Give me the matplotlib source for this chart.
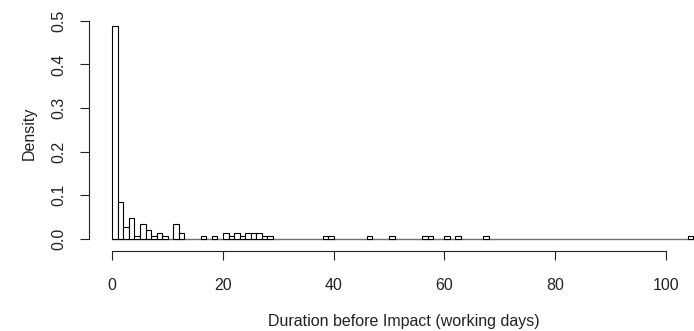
import numpy as np
import matplotlib
matplotlib.use("Agg")
import matplotlib.pyplot as plt

plt.rcParams['font.family'] = ['Liberation Sans', 'DejaVu Sans']

# histogram bins of width 1 day, 0..105; only non-empty bins listed (density)
bin_left = [0, 1, 2, 3, 4, 5, 6, 7, 8, 9, 11, 12,
            16, 18, 20, 21, 22, 23, 24, 25, 26, 27, 28,
            38, 39, 46, 50, 56, 57, 60, 62, 67, 104]
density = [0.488, 0.0855, 0.027, 0.047, 0.0069, 0.034, 0.020, 0.0069, 0.0138, 0.0069, 0.034, 0.0138,
           0.0069, 0.0069, 0.0138, 0.0069, 0.0138, 0.0069, 0.0138, 0.0138, 0.0138, 0.0069, 0.0069,
           0.0069, 0.0069, 0.0069, 0.0069, 0.0069, 0.0069, 0.0069, 0.0069, 0.0069, 0.0069]
n_bins = 105

edges = np.arange(n_bins + 1)
heights = np.zeros(n_bins)
for b, d in zip(bin_left, density):
    heights[b] = d

W, H = 694, 331
fig = plt.figure(figsize=(W / 100, H / 100), dpi=100)
ax = fig.add_axes([89 / W, (H - 251) / H, (W - 89) / W, (251 - 15) / H])

# bottoms of the empty bins show as one grey line
ax.hlines(0, edges[0], edges[-1], color='#707070', linewidth=1.0, zorder=1)
nz = heights > 0
ax.bar(edges[:-1][nz], heights[nz], width=1, align='edge', color='white',
       edgecolor='black', linewidth=0.8, zorder=2)

ax.set_xlim(-4.21, 105.1)
ax.set_ylim(-0.0275, 0.513)

for s in ['top', 'right']:
    ax.spines[s].set_visible(False)
ax.spines['left'].set_bounds(0, 0.5)
ax.spines['bottom'].set_bounds(0, 100)
for s in ['left', 'bottom']:
    ax.spines[s].set_color('#222222')
    ax.spines[s].set_linewidth(0.8)

ax.set_xticks([0, 20, 40, 60, 80, 100])
ax.set_yticks([0.0, 0.1, 0.2, 0.3, 0.4, 0.5])
ax.set_yticklabels(['0.0', '0.1', '0.2', '0.3', '0.4', '0.5'], rotation=90, va='center')
ax.tick_params(axis='both', direction='out', length=6.5, width=0.8, color='#222222',
               labelsize=11.5, labelcolor='#222222')
ax.tick_params(axis='x', pad=13)
ax.tick_params(axis='y', pad=10)

ax.set_xlabel('Duration before Impact (working days)', fontsize=11.5, color='#222222')
ax.xaxis.set_label_coords(0.521, -0.265)
ax.set_ylabel('Density', fontsize=11.5, color='#222222', labelpad=10)

fig.savefig('out.png', dpi=100)
